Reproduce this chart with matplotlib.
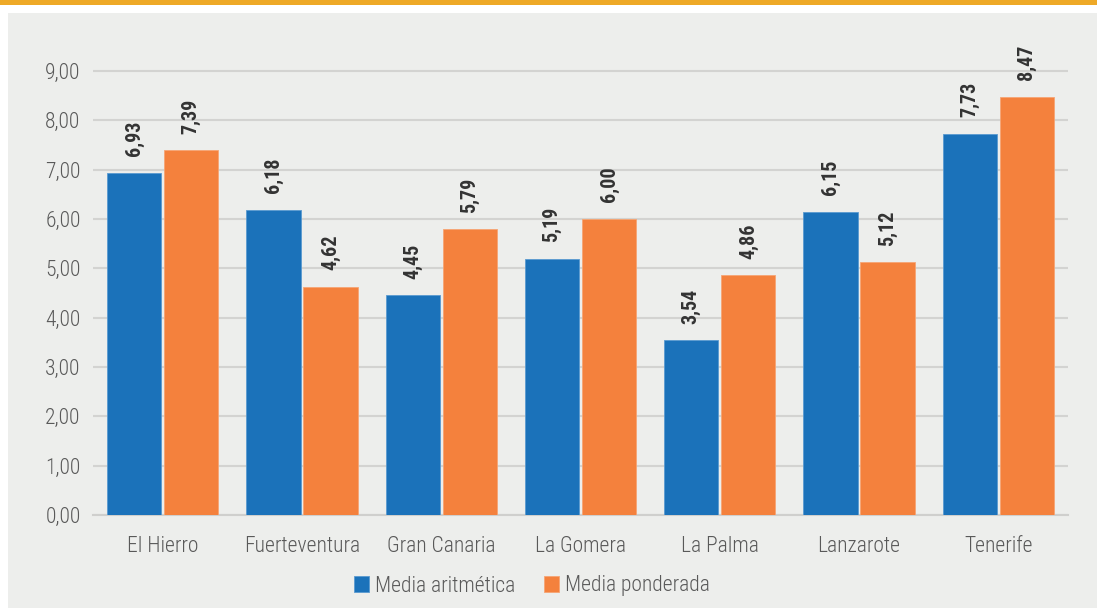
import numpy as np
import matplotlib.pyplot as plt
from matplotlib.patches import Rectangle
from matplotlib import font_manager

islas = ['El Hierro', 'Fuerteventura', 'Gran Canaria', 'La Gomera',
         'La Palma', 'Lanzarote', 'Tenerife']
media_aritmetica = [6.93, 6.18, 4.45, 5.19, 3.54, 6.15, 7.73]
media_ponderada = [7.39, 4.62, 5.79, 6.00, 4.86, 5.12, 8.47]
yticks = np.arange(0, 10, 1)

blue = '#1B72BA'
orange = '#F4813D'
bg = '#EDEEEC'
names = {f.name for f in font_manager.fontManager.ttflist}
fam = [f for f in ['Roboto Condensed', 'Liberation Sans Narrow', 'DejaVu Sans']
       if f in names] or ['DejaVu Sans']

fig = plt.figure(figsize=(10.97, 6.08), dpi=100)
fig.patch.set_facecolor('white')
# orange band on top and grey panel
fig.patches.append(Rectangle((0, 1 - 5 / 608), 1, 5 / 608, transform=fig.transFigure,
                             facecolor='#EEA927', edgecolor='none', zorder=-10))
fig.patches.append(Rectangle((8 / 1097, 0), 1, 1 - 13 / 608, transform=fig.transFigure,
                             facecolor=bg, edgecolor='none', zorder=-10))

ax = fig.add_axes([93 / 1097, 1 - 515 / 608, 975 / 1097, 444 / 608 * 9.6 / 9])
ax.set_facecolor('none')
x = np.arange(len(islas))
w = 0.39
off = 0.205
b1 = ax.bar(x - off, media_aritmetica, w, color=blue, edgecolor='#5A9AD0', linewidth=0.6,
            label='Media aritmética', zorder=3)
b2 = ax.bar(x + off, media_ponderada, w, color=orange, edgecolor='#F6A574', linewidth=0.6,
            label='Media ponderada', zorder=3)

for bars, vals in ((b1, media_aritmetica), (b2, media_ponderada)):
    for r, v in zip(bars, vals):
        ax.annotate(f'{v:.2f}'.replace('.', ','), (r.get_x() + r.get_width() / 2, v),
                    xytext=(0, 12), textcoords='offset points', rotation=90,
                    ha='center', va='bottom', fontsize=14.5, fontweight='bold',
                    color='#333333', family=fam)

ax.set_xlim(-0.5, len(islas) - 0.5)
ax.set_ylim(0, 9.6)
ax.set_yticks(yticks)
ax.set_yticklabels([f'{t:.2f}'.replace('.', ',') for t in yticks], family=fam,
                   fontsize=15.5, color='#595959', fontweight='light')
ax.set_xticks(x)
ax.set_xticklabels(islas, family=fam, fontsize=15.5, color='#595959', fontweight='light')
ax.tick_params(length=0, pad=9)
ax.tick_params(axis='x', pad=15)
ax.yaxis.grid(True, color='#D3D3D1', linewidth=1.5, zorder=0)
for s in ('top', 'right', 'left'):
    ax.spines[s].set_visible(False)
ax.spines['bottom'].set_color('#CFCFCD')
ax.spines['bottom'].set_linewidth(1.5)

leg = fig.legend(loc='center', bbox_to_anchor=(532 / 1097, 1 - 586 / 608), ncol=2,
                 frameon=False, handlelength=0.7, handleheight=0.7, handletextpad=0.3,
                 columnspacing=1.3,
                 prop={'family': fam, 'size': 15.5, 'weight': 'light'})
for t in leg.get_texts():
    t.set_color('#595959')

fig.savefig('out.png', dpi=100)
